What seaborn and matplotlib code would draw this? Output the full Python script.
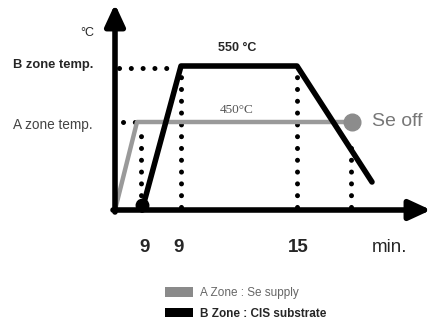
import matplotlib
matplotlib.use("Agg")
import matplotlib.pyplot as plt
from matplotlib.patches import Patch
import pandas as pd
import seaborn as sns

# schematic units: x = time position, y = temperature position
a_time = [0, 22, 237]
a_temp = [0, 88, 88]
b_time = [27, 66, 182, 257]
b_temp = [0, 144, 144, 28]

guide_x = [26, 66, 182, 236]
guide_top = [78, 144, 144, 70]
level_b = 142
level_a = 88

tick_pos = [30, 64, 183]
tick_labels = ["9", "9", "15"]

sns.set_theme(style="white")
plt.rcParams["font.family"] = ["Liberation Sans", "DejaVu Sans"]

fig = plt.figure(figsize=(4.32, 3.26), dpi=100)
ax = fig.add_axes([0, 0, 1, 1])
ax.set_xlim(-115, 317)
ax.set_ylim(-116, 210)
ax.axis("off")

dot = dict(color="black", lw=3.6, linestyle=(0, (0.01, 2.35)), dash_capstyle="round", zorder=1)

# dotted guides
for gx, gt in zip(guide_x, guide_top):
    ax.plot([gx, gx], [3, gt], **dot)
ax.plot([4, 62], [level_b, level_b], **dot)
ax.plot([8, 20], [level_a, level_a], **dot)

df_a = pd.DataFrame({"time": a_time, "temp": a_temp})
df_b = pd.DataFrame({"time": b_time, "temp": b_temp})
sns.lineplot(data=df_a, x="time", y="temp", sort=False, color="#9a9a9a", lw=3.2, ax=ax, zorder=3)
sns.lineplot(data=df_b, x="time", y="temp", sort=False, color="black", lw=4, ax=ax, zorder=4)

# end markers
ax.plot(a_time[-1], a_temp[-1], "o", color="#8c8c8c", ms=12, zorder=5)
ax.plot(b_time[0], 5, "o", color="black", ms=9, zorder=5)

# axes arrows
arrow = dict(arrowstyle="-|>,head_length=1.3,head_width=0.6", lw=4, color="black",
             shrinkA=0, shrinkB=0, mutation_scale=10)
ax.annotate("", xy=(0, 206), xytext=(0, -2), arrowprops=arrow)
ax.annotate("", xy=(316, 0), xytext=(-2, 0), arrowprops=arrow)

# labels
ax.text(-28, 177, "°C", fontsize=9, ha="center", va="center")
ax.text(-22, 145, "B zone temp.", fontsize=9.3, fontweight="bold", ha="right", va="center")
ax.text(-22, 85, "A zone temp.", fontsize=9.8, color="#444444", ha="right", va="center")
ax.text(122, 162, "550 °C", fontsize=9, fontweight="bold", ha="center", va="center")
ax.text(122, 100, "450°C", fontsize=9.5, color="#555555", ha="center", va="center",
        family=["Liberation Serif"])
ax.text(257, 88, "Se off", fontsize=14, color="#777777", ha="left", va="center")

for p, lab in zip(tick_pos, tick_labels):
    ax.text(p, -37, lab, fontsize=13.5, fontweight="bold", ha="center", va="center")
ax.text(275, -37, "min.", fontsize=13.5, ha="center", va="center")

handles = [Patch(facecolor="#8a8a8a", edgecolor="none"), Patch(facecolor="black", edgecolor="none")]
leg = ax.legend(handles, ["A Zone : Se supply", "B Zone : CIS substrate"],
                loc="upper left", bbox_to_anchor=(165 / 432, 1 - 287 / 326),
                frameon=False, fontsize=8.5, handlelength=2.4, handleheight=0.85,
                handletextpad=0.6, labelspacing=0.75, borderpad=0, borderaxespad=0)
leg.get_texts()[0].set_color("#666666")
leg.get_texts()[1].set_fontweight("bold")

fig.savefig("out.png", dpi=100)
